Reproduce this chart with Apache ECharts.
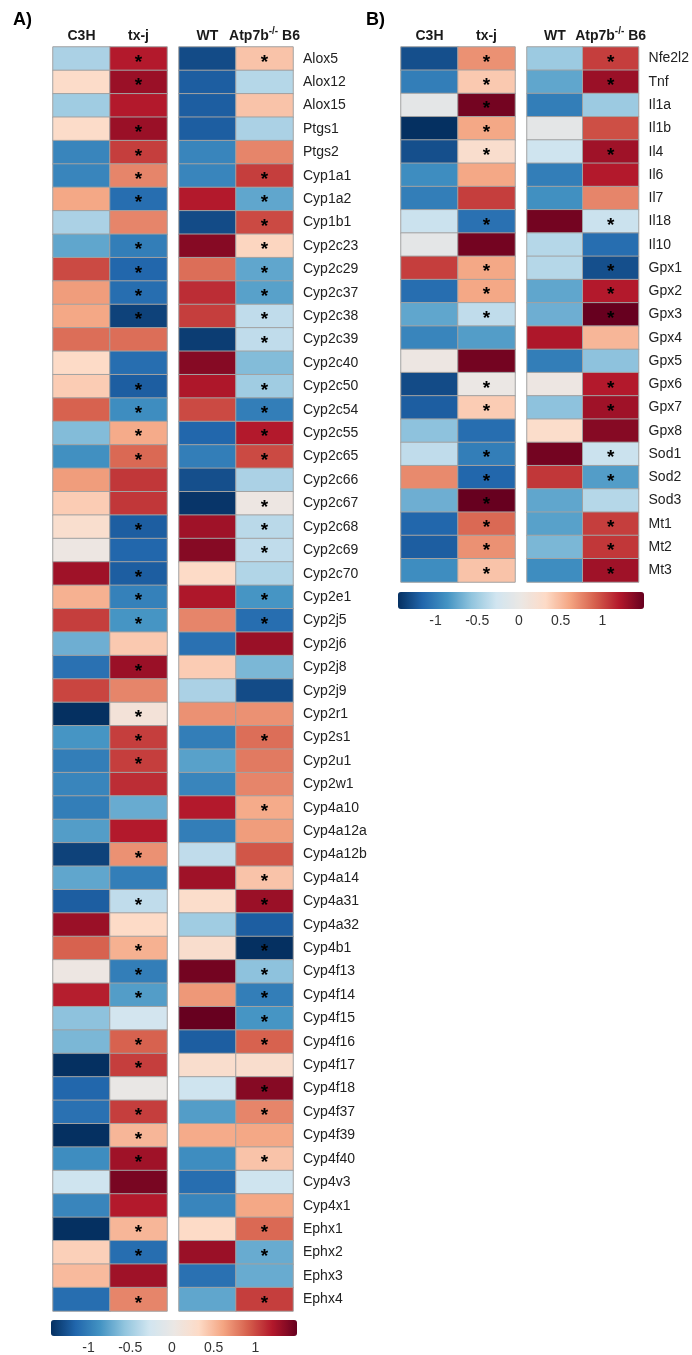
<!DOCTYPE html>
<html>
<head>
<meta charset="UTF-8">
<title>Heatmap</title>
<script src="https://cdn.jsdelivr.net/npm/echarts@6/dist/echarts.min.js"></script>
<style>
body { margin: 0; padding: 0; background: #fff; }
#main { width: 692px; height: 1355px; }
</style>
</head>
<body>
<div id="main"></div>
<script>
// panel A genes
var genesA = ['Alox5','Alox12','Alox15','Ptgs1','Ptgs2','Cyp1a1','Cyp1a2','Cyp1b1','Cyp2c23','Cyp2c29','Cyp2c37','Cyp2c38','Cyp2c39','Cyp2c40',
  'Cyp2c50','Cyp2c54','Cyp2c55','Cyp2c65','Cyp2c66','Cyp2c67','Cyp2c68','Cyp2c69','Cyp2c70','Cyp2e1','Cyp2j5','Cyp2j6','Cyp2j8',
  'Cyp2j9','Cyp2r1','Cyp2s1','Cyp2u1','Cyp2w1','Cyp4a10','Cyp4a12a','Cyp4a12b','Cyp4a14','Cyp4a31','Cyp4a32','Cyp4b1','Cyp4f13','Cyp4f14',
  'Cyp4f15','Cyp4f16','Cyp4f17','Cyp4f18','Cyp4f37','Cyp4f39','Cyp4f40','Cyp4v3','Cyp4x1','Ephx1','Ephx2','Ephx3','Ephx4'];
var c3hA = [-0.45,0.3,-0.5,0.3,-0.95,-0.95,0.6,-0.45,-0.75,1.0,0.65,0.6,0.85,0.32,
  0.4,0.9,-0.62,-0.88,0.65,0.4,0.25,0.05,1.28,0.55,1.05,-0.7,-1.08,
  1.02,-1.48,-0.85,-1.0,-0.95,-1.0,-0.8,-1.35,-0.75,-1.2,1.3,0.9,0.05,1.18,
  -0.58,-0.65,-1.45,-1.15,-1.08,-1.5,-0.9,-0.28,-0.95,-1.5,0.38,0.5,-1.1];
var txjA = [1.2,1.3,1.2,1.3,1.05,0.75,-1.1,0.75,-1.0,-1.15,-1.1,-1.35,0.85,-1.1,
  -1.2,-0.9,0.58,0.87,1.08,1.08,-1.2,-1.15,-1.2,-0.98,-0.85,0.42,1.3,
  0.75,0.15,1.05,1.05,1.12,-0.72,1.2,0.7,-1.0,-0.35,0.32,0.55,-1.0,-0.8,
  -0.25,0.9,1.05,0.0,1.05,0.52,1.28,1.43,1.2,0.52,-1.1,1.28,0.75];
var wtA = [-1.3,-1.2,-1.2,-1.2,-0.95,-0.95,1.2,-1.3,1.38,0.85,1.12,1.05,-1.38,1.38,
  1.22,1.0,-1.15,-1.0,-1.28,-1.42,1.28,1.38,0.32,1.22,0.75,-1.08,0.4,
  -0.45,0.7,-1.0,-0.78,-0.95,1.2,-1.0,-0.35,1.28,0.28,-0.5,0.26,1.45,0.67,
  1.5,-1.2,0.26,-0.28,-0.8,0.58,-0.9,-1.1,-0.95,0.32,1.3,-1.08,-0.75];
var atpA = [0.45,-0.4,0.45,-0.45,0.75,1.05,-0.75,1.0,0.35,-0.75,-0.78,-0.35,-0.35,-0.62,
  -0.5,-1.0,1.2,1.0,-0.45,0.05,-0.38,-0.35,-0.42,-0.85,-1.1,1.3,-0.65,
  -1.3,0.7,0.85,0.8,0.75,0.58,0.65,0.95,0.45,1.3,-1.2,-1.48,-0.58,-1.0,
  -0.85,0.9,0.26,1.38,0.75,0.6,0.45,-0.28,0.6,0.87,-0.72,-0.72,1.05];
// 1 = asterisk
var sigTxjA = [1,1,0,1,1,1,1,0,1,1,1,1,0,0,
  1,1,1,1,0,0,1,0,1,1,1,0,1,
  0,1,1,1,0,0,0,1,0,1,0,1,1,1,
  0,1,1,0,1,1,1,0,0,1,1,0,1];
var sigAtpA = [1,0,0,0,0,1,1,1,1,1,1,1,1,0,
  1,1,1,1,0,1,1,1,0,1,1,0,0,
  0,0,1,0,0,1,0,0,1,1,0,1,1,1,
  1,1,0,1,1,0,1,0,0,1,1,0,1];

// panel B genes
var genesB = ['Nfe2l2','Tnf','Il1a','Il1b','Il4','Il6','Il7','Il18','Il10','Gpx1','Gpx2','Gpx3','Gpx4','Gpx5','Gpx6','Gpx7','Gpx8','Sod1','Sod2','Sod3','Mt1','Mt2','Mt3'];
var c3hB = [-1.28,-1.0,-0.05,-1.45,-1.28,-0.9,-1.0,-0.3,-0.05,1.05,-1.1,-0.75,-0.95,0.05,-1.3,-1.2,-0.58,-0.35,0.73,-0.7,-1.15,-1.2,-0.9];
var txjB = [0.7,0.42,1.45,0.6,0.26,0.6,1.05,-1.08,1.45,0.6,0.6,-0.35,-0.8,1.45,0.03,0.4,-1.1,-1.0,-1.15,1.5,0.87,0.7,0.45];
var wtB = [-0.52,-0.75,-1.0,-0.05,-0.28,-1.0,-0.88,1.45,-0.4,-0.4,-0.75,-0.7,1.22,-1.0,0.05,-0.58,0.28,1.45,1.08,-0.75,-0.78,-0.65,-0.9];
var atpB = [1.05,1.3,-0.52,0.98,1.28,1.2,0.75,-0.3,-1.1,-1.28,1.2,1.5,0.52,-0.58,1.2,1.28,1.38,-0.3,-0.8,-0.4,1.05,1.08,1.28];
var sigTxjB = [1,1,1,1,1,0,0,1,0,1,1,1,0,0,1,1,0,1,1,1,1,1,1];
var sigAtpB = [1,1,0,0,1,0,0,1,0,1,1,1,0,0,1,1,0,1,1,0,1,1,1];

var colsLeft = ['C3H', 'tx-j'];
var colsRight = ['WT', 'Atp7b{sup|-/-} B6'];
var scaleTicks = [-1, -0.5, 0, 0.5, 1];
var scaleMin = -1.45, scaleMax = 1.5;
var rdbu = ['#053061','#2166ac','#4393c3','#92c5de','#d1e5f0','#ebe7e4','#fddbc7','#f4a582','#d6604d','#b2182b','#67001f'];

var FONT = 'Liberation Sans, Arial, sans-serif';

function cells(a, b, sig) {
  var out = [];
  for (var i = 0; i < a.length; i++) {
    out.push({ value: [0, i, a[i]] });
    out.push({ value: [1, i, b[i]], label: { show: !!sig[i] } });
  }
  return out;
}

function heat(idx, data) {
  return {
    type: 'heatmap', xAxisIndex: idx, yAxisIndex: idx, data: data,
    itemStyle: { borderColor: '#a2a2a2', borderWidth: 1 },
    label: { show: false, formatter: '*', fontSize: 19, fontWeight: 'bold', color: '#000', offset: [0, 4], fontFamily: FONT },
    emphasis: { disabled: true }
  };
}

function xTop(idx, cols) {
  return {
    type: 'category', gridIndex: idx, data: cols, position: 'top',
    axisLine: { show: false }, axisTick: { show: false }, splitLine: { show: false },
    axisLabel: {
      interval: 0, margin: 1, fontSize: 14, fontWeight: 'bold', color: '#1a1a1a', fontFamily: FONT, lineHeight: 20,
      rich: { sup: { fontSize: 10, fontWeight: 'bold', color: '#1a1a1a', fontFamily: FONT, verticalAlign: 'top', lineHeight: 10 } }
    }
  };
}

function yCat(idx, genes, showLabels) {
  return {
    type: 'category', gridIndex: idx, data: genes, inverse: true, position: 'right',
    axisLine: { show: false }, axisTick: { show: false }, splitLine: { show: false },
    axisLabel: { show: showLabels, interval: 0, margin: 10, fontSize: 14, color: '#222', fontFamily: FONT }
  };
}

// axis under each colour bar, only for its tick labels
function xScale(idx) {
  return {
    type: 'value', gridIndex: idx, min: scaleMin, max: scaleMax,
    axisLine: { show: false }, axisTick: { show: false }, splitLine: { show: false },
    axisLabel: { margin: 5, fontSize: 14, color: '#333', fontFamily: FONT, customValues: scaleTicks }
  };
}

var chart = echarts.init(document.getElementById('main'));
chart.setOption({
  backgroundColor: '#fff',
  animation: false,
  title: [
    { text: 'A)', left: 13, top: 11, padding: 0, textStyle: { fontSize: 18, fontWeight: 'bold', color: '#000', fontFamily: FONT } },
    { text: 'B)', left: 366, top: 11, padding: 0, textStyle: { fontSize: 18, fontWeight: 'bold', color: '#000', fontFamily: FONT } }
  ],
  grid: [
    { left: 53, top: 47, width: 114, height: 1264 },
    { left: 179, top: 47, width: 114, height: 1264 },
    { left: 401, top: 47, width: 114, height: 535 },
    { left: 527, top: 47, width: 114, height: 535 },
    { left: 51, top: 1320, width: 246, height: 16 },
    { left: 398, top: 592, width: 246, height: 17 }
  ],
  xAxis: [xTop(0, colsLeft), xTop(1, colsRight), xTop(2, colsLeft), xTop(3, colsRight), xScale(4), xScale(5)],
  yAxis: [
    yCat(0, genesA, false), yCat(1, genesA, true), yCat(2, genesB, false), yCat(3, genesB, true),
    { type: 'value', gridIndex: 4, show: false }, { type: 'value', gridIndex: 5, show: false }
  ],
  visualMap: [
    { type: 'continuous', seriesIndex: [0, 1], min: scaleMin, max: scaleMax, inRange: { color: rdbu },
      orient: 'horizontal', left: 51, top: 1320, itemWidth: 16, itemHeight: 246, padding: 0, calculable: false, hoverLink: false },
    { type: 'continuous', seriesIndex: [2, 3], min: scaleMin, max: scaleMax, inRange: { color: rdbu },
      orient: 'horizontal', left: 398, top: 592, itemWidth: 17, itemHeight: 246, padding: 0, calculable: false, hoverLink: false }
  ],
  series: [
    heat(0, cells(c3hA, txjA, sigTxjA)),
    heat(1, cells(wtA, atpA, sigAtpA)),
    heat(2, cells(c3hB, txjB, sigTxjB)),
    heat(3, cells(wtB, atpB, sigAtpB))
  ]
});
</script>
</body>
</html>
